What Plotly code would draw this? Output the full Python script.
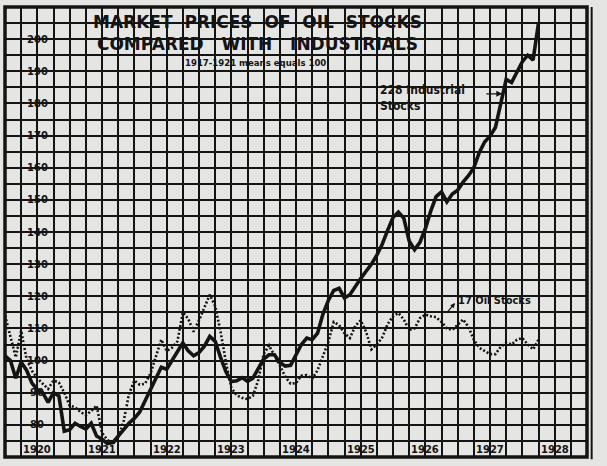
import plotly.graph_objects as go

# ---- data (1917-1921 means = 100), monthly Jan 1920 .. Apr 1928 ----
industrial_1920 = [101.5, 100, 94.5, 99.5, 97, 93, 91, 90, 87, 90, 89, 78]
industrial_1921 = [78.5, 80.5, 79.5, 78.7, 80.5, 76.5, 75.5, 74.2, 74.5, 76.5, 78.5, 80.5]
industrial_1922 = [82, 84, 87.5, 91, 94.7, 97.9, 97.3, 100, 102.8, 105.5, 103, 101.5]
industrial_1923 = [102.5, 104.5, 107.5, 106, 101, 96.5, 93.5, 93.7, 94.7, 93.5, 94.5, 97.5]
industrial_1924 = [100.5, 101.8, 101.8, 99.4, 98.3, 98.5, 101.5, 105, 107, 106.5, 108.5, 114.5]
industrial_1925 = [118.7, 121.8, 122.5, 119.5, 120.5, 123.2, 125.5, 127.8, 130, 132.8, 136.2, 140.5]
industrial_1926 = [144.5, 146.2, 144.3, 137.2, 134.5, 136.8, 141, 146.5, 151, 152.5, 149.4, 151.8]
industrial_1927 = [153, 155.5, 157.5, 160, 164.7, 168, 169.8, 172.5, 180.5, 187.5, 186.5, 189.5]
industrial_1928 = [193, 195, 193.5, 205]

oil_1920 = [114, 107, 101, 109.3, 100.5, 96.8, 94.5, 92.8, 91.2, 93.8, 93.2, 90]
oil_1921 = [86, 85.5, 84, 83, 84.3, 86, 77.5, 75.3, 74, 76, 81, 89.5]
oil_1922 = [93.8, 92.5, 92.8, 96, 101.5, 106.5, 103, 104, 106, 115, 113, 109]
oil_1923 = [112.5, 116.5, 120.5, 117, 109, 99.5, 91.5, 89.2, 88.4, 88, 89, 94]
oil_1924 = [102, 104.7, 101.8, 98.5, 95, 92.8, 93, 95.3, 95.5, 94.3, 97, 101.7]
oil_1925 = [105.8, 112, 111, 108.5, 107, 110.8, 112.5, 109, 103.5, 105, 107.2, 111.3]
oil_1926 = [113.8, 114.8, 112.8, 109.5, 110, 113.2, 114.3, 113.8, 113.5, 112, 110, 109.5]
oil_1927 = [111, 112.8, 110.5, 106.5, 104, 103, 102, 102, 104.3, 105.5, 105, 106.5]
oil_1928 = [107, 105, 103.5, 106.5]

years = [1920, 1921, 1922, 1923, 1924, 1925, 1926, 1927, 1928]
y_tick_values = [80, 90, 100, 110, 120, 130, 140, 150, 160, 170, 180, 190, 200]

industrial = (industrial_1920 + industrial_1921 + industrial_1922 + industrial_1923 +
              industrial_1924 + industrial_1925 + industrial_1926 + industrial_1927 +
              industrial_1928)
oil = (oil_1920 + oil_1921 + oil_1922 + oil_1923 + oil_1924 + oil_1925 +
       oil_1926 + oil_1927 + oil_1928)

x_ind = [1920 + i / 12 for i in range(len(industrial))]
x_oil = [1920 + i / 12 for i in range(len(oil))]

INK = "#141414"
PAPER = "#e5e5e3"

fig = go.Figure()
fig.add_trace(go.Scatter(x=x_oil, y=oil, mode="lines",
                         line=dict(color=INK, width=2.6, dash="2px,2px"),
                         hoverinfo="skip", showlegend=False))
fig.add_trace(go.Scatter(x=x_ind, y=industrial, mode="lines",
                         line=dict(color=INK, width=3.6),
                         hoverinfo="skip", showlegend=False))

ann = []
for v in y_tick_values:
    ann.append(dict(x=1920.5, y=v, text="<b>%d</b>" % v, showarrow=False,
                    font=dict(family="DejaVu Sans", size=10, color=INK),
                    xanchor="center", yanchor="middle"))
for yr in years:
    ann.append(dict(x=yr + 0.5, y=72.3, text="<b>%d</b>" % yr, showarrow=False,
                    font=dict(family="DejaVu Sans", size=10, color=INK),
                    xanchor="center", yanchor="middle"))

ann.append(dict(xref="paper", yref="paper", x=0.433, y=0.943,
                text="<b>MARKET  PRICES  OF  OIL  STOCKS</b><br>"
                     "<b>COMPARED   WITH   INDUSTRIALS</b>",
                showarrow=False, align="center",
                font=dict(family="DejaVu Sans", size=17, color=INK),
                xanchor="center", yanchor="middle"))
ann.append(dict(xref="paper", yref="paper", x=0.43, y=0.876,
                text="<b>1917-1921 means equals 100</b>", showarrow=False,
                font=dict(family="DejaVu Sans Condensed", size=9.5, color=INK),
                xanchor="center", yanchor="middle"))

ann.append(dict(x=1925.77, y=181.6, text="<b>228 Industrial</b><br><b>Stocks</b>",
                showarrow=False, align="left",
                font=dict(family="DejaVu Sans Condensed", size=12, color=INK),
                xanchor="left", yanchor="middle"))
ann.append(dict(x=1927.69, y=183.0, ax=1927.42, ay=183.0, axref="x", ayref="y",
                text="", showarrow=True, arrowhead=2, arrowsize=1, arrowwidth=1.2,
                arrowcolor=INK))
ann.append(dict(x=1926.97, y=118.6, text="<b>17 Oil Stocks</b>",
                showarrow=False, font=dict(family="DejaVu Sans Condensed", size=11, color=INK),
                xanchor="left", yanchor="middle"))
ann.append(dict(x=1926.96, y=117.9, ax=1926.82, ay=114.6, axref="x", ayref="y",
                text="", showarrow=True, arrowhead=2, arrowsize=0.8, arrowwidth=1.2,
                arrowcolor=INK))

fig.update_layout(
    width=607, height=466,
    margin=dict(l=5, r=20, t=7, b=9),
    paper_bgcolor=PAPER, plot_bgcolor=PAPER,
    annotations=ann,
    xaxis=dict(range=[1920, 1929], tick0=1920, dtick=0.25, showgrid=True,
               gridcolor=INK, gridwidth=1.5, showticklabels=False, zeroline=False,
               showline=False, ticks=""),
    yaxis=dict(range=[70, 210], tick0=70, dtick=5, showgrid=True,
               gridcolor=INK, gridwidth=1.5, showticklabels=False, zeroline=False,
               showline=False, ticks=""),
    shapes=[dict(type="rect", xref="paper", yref="paper", x0=0, y0=0, x1=1, y1=1,
                 line=dict(color=INK, width=3.5)),
            dict(type="line", xref="paper", yref="paper", x0=1.008, y0=-0.005,
                 x1=1.008, y1=1.0, line=dict(color=INK, width=2))],
)

fig.write_html("out.html", config={"displayModeBar": False},
               post_script="document.body.style.margin='0';document.body.style.background='%s';" % PAPER)
